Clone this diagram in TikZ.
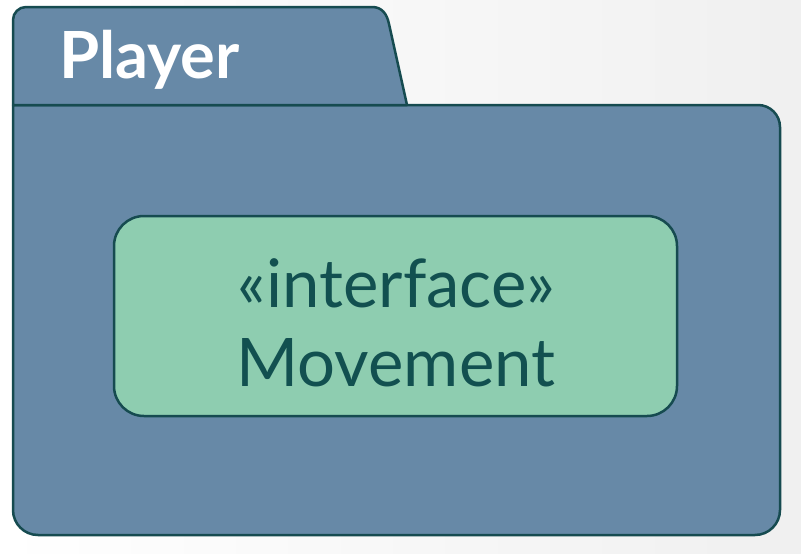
\documentclass[tikz,border=0pt]{standalone}
\usepackage{fontspec}
\setmainfont{Lato}
\definecolor{bodyfill}{HTML}{6789A7}
\definecolor{ifill}{HTML}{8ECDB0}
\definecolor{edge}{HTML}{164B50}
\definecolor{itext}{HTML}{125050}
\tikzset{
  pkgshape/.style={fill=bodyfill, draw=edge, line width=2.5pt, line join=round},
  ifbox/.style={fill=ifill, draw=edge, line width=2.5pt, rounded corners=30pt, inner sep=0pt},
  iftext/.style={text=itext, font=\fontsize{67}{76}\selectfont, inner sep=0pt},
  pkgtitle/.style={text=white, font=\fontsize{65}{76}\selectfont\bfseries, inner sep=0pt}
}
\begin{document}
\begin{tikzpicture}[x=1pt,y=-1pt]
\shade[left color=white, right color=white!94!black] (0,0) rectangle (801,554);
\useasboundingbox (0,0) rectangle (801,554);
% body
\draw[pkgshape] (13,105) -- (758,105) arc[start angle=270, end angle=360, radius=22] -- (780,510)
  arc[start angle=0, end angle=90, radius=25] -- (38,535)
  arc[start angle=90, end angle=180, radius=25] -- cycle;
% tab
\draw[pkgshape] (13,105) -- (13,20) arc[start angle=180, end angle=270, radius=13] -- (372,7)
  .. controls (382,7) and (387,14) .. (389,24) -- (407,105) -- cycle;
\node[pkgtitle, anchor=base west] (player) at (59,78) {Player};
\node[ifbox, minimum width=563pt, minimum height=200pt] (iface) at (395.5,316) {};
\node[iftext, anchor=base] (stereo) at (396.5,307) {«interface»};
\node[iftext, anchor=base] (name) at (396,386) {Movement};
\end{tikzpicture}
\end{document}
